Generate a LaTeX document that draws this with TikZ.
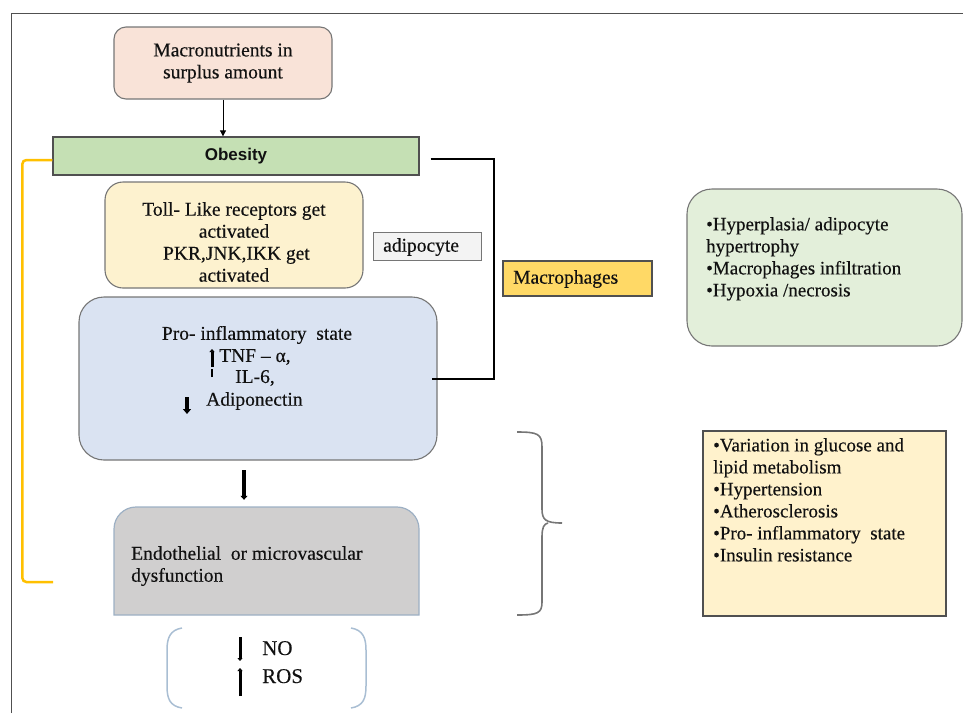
\documentclass[tikz,border=0pt]{standalone}
\usepackage{fontspec}
\setmainfont{Liberation Serif}[FakeBold=0.3]
\newfontfamily\arialfont{Liberation Sans}
\usetikzlibrary{arrows.meta,calc}
\definecolor{peach}{HTML}{F9E3D8}
\definecolor{obgreen}{HTML}{C5E0B4}
\definecolor{tollyellow}{HTML}{FDF2CF}
\definecolor{adigray}{HTML}{F3F3F3}
\definecolor{macyellow}{HTML}{FFD966}
\definecolor{rgreen}{HTML}{E3EFDA}
\definecolor{blueF}{HTML}{DAE3F2}
\definecolor{endogray}{HTML}{D0CFCF}
\definecolor{endoborder}{HTML}{9DB0C4}
\definecolor{ryellow}{HTML}{FFF2CC}
\definecolor{parcol}{HTML}{A9BED3}
\definecolor{goldline}{HTML}{FFC000}
\definecolor{bordgray}{HTML}{767676}
\definecolor{darkb}{HTML}{505050}
\definecolor{txtc}{HTML}{111111}
\begin{document}
\begin{tikzpicture}[x=1pt,y=-1pt,
  box/.style={draw=bordgray, line width=1.1pt, inner sep=0pt},
  txt/.style={font=\rmfamily\fontsize{19.5}{22}\selectfont, inner sep=0pt, text=txtc},
  rtxt/.style={font=\rmfamily\fontsize{19}{22}\selectfont, inner sep=0pt, text=txtc, align=left, anchor=north west},
  barup/.style={line width=3pt, -{Triangle[length=3pt,width=5pt]}},
]
\useasboundingbox (0,0) rectangle (963,713);
% frame
\draw[line width=1pt, darkb] (11,713) -- (11,13) -- (963,13);

% macronutrients
\node[box, rounded corners=12pt, fill=peach, minimum width=218pt, minimum height=72pt, txt, align=center] (macro) at (223,63) {Macronutrients in\\surplus amount};

% obesity
\node[draw=darkb, fill=obgreen, line width=1.3pt, minimum width=366pt, minimum height=38pt, inner sep=0pt, font=\arialfont\bfseries\fontsize{17}{20}\selectfont, text=txtc] (obesity) at (236,156) {Obesity};

\draw[line width=0.8pt, -{Triangle[length=6pt,width=6pt]}] (macro.south) -- (macro.south |- obesity.north);

% toll box
\node[box, rounded corners=18pt, fill=tollyellow, minimum width=258pt, minimum height=106pt] (toll) at (234,235) {};
\node[txt, align=center] (tolltxt) at (234,242) {Toll- Like receptors get\\activated\\\ PKR,JNK,IKK get\\activated};

% adipocyte
\node[draw=bordgray, fill=adigray, line width=1pt, minimum width=108pt, minimum height=28pt, inner sep=0pt] (adip) at (427,246) {};
\node[txt, anchor=west] (adiptxt) at (383,247) {adipocyte};

% macrophages
\node[draw=darkb, fill=macyellow, line width=1.1pt, minimum width=149pt, minimum height=35pt, inner sep=0pt] (macroph) at (577.5,278.5) {};
\node[txt, anchor=west] (macrophtxt) at (513,279) {Macrophages};

% green right box
\node[box, rounded corners=25pt, fill=rgreen, minimum width=275pt, minimum height=157pt] (hyper) at (824.5,267.5) {};
\node[rtxt] (hypertxt) at (706,217) {•Hyperplasia/ adipocyte\\hypertrophy\\•Macrophages infiltration\\•Hypoxia /necrosis};

% blue box
\node[box, rounded corners=25pt, fill=blueF, minimum width=358pt, minimum height=163pt] (blue) at (258,378.5) {};
\node[txt] (pro) at (257,335) {Pro- inflammatory\ \ state};
\node[txt, anchor=west] (tnf) at (219,357) {TNF – α,};
\node[txt] (il6) at (255,378) {IL-6,};
\node[txt, anchor=west] (adipo) at (206,401) {Adiponectin};
\coordinate (u1a) at (212,367); \coordinate (u1b) at (212,349);
\draw[barup] (u1a) -- (u1b);
\coordinate (u2a) at (212,377); \coordinate (u2b) at (212,369);
\draw[line width=2.8pt] (u2a) -- (u2b);
\coordinate (d1a) at (187,397); \coordinate (d1b) at (187,414);
\draw[line width=3.5pt, -{Triangle[length=5pt,width=8pt]}] (d1a) -- (d1b);

% black connector
\draw[line width=2pt] ([xshift=11pt,yshift=-3pt]obesity.east) -- ++(63,0) |- ([xshift=-6pt]blue.east);

% endothelial box
\path[fill=endogray, draw=endoborder, line width=1.2pt] (114,615) [rounded corners=22pt] -- (114,507) -- (419,507) [sharp corners] -- (419,615) -- cycle;
\node[minimum width=305pt, minimum height=108pt, inner sep=0pt] (endo) at (266.5,561) {};
\node[txt, anchor=north west, align=left] (endotxt) at (131,546) {Endothelial\ \ or microvascular\\dysfunction};

% arrow blue -> endo
\coordinate (a1) at (244,470);
\draw[line width=3.4pt, -{Triangle[length=4pt,width=7pt]}, shorten >=7pt] (a1) -- (a1 |- endo.north);

% gold bracket
\coordinate (yend) at (53,582);
\draw[goldline, line width=2.5pt, rounded corners=4pt] ([yshift=-4pt]obesity.west) -- ++(-30,0) |- (yend);

% brace
\draw[bordgray, line width=1.6pt] (517,432) .. controls (538,432) and (542,434) .. (542,447) -- (542,509) .. controls (542,520) and (546,523) .. (562,523);
\draw[bordgray, line width=1.6pt] (548,523) .. controls (544,524) and (542,527) .. (542,537) -- (542,602) .. controls (542,613) and (538,615) .. (517,615);

% yellow right box
\node[draw=darkb, fill=ryellow, line width=1.2pt, minimum width=243pt, minimum height=185pt, inner sep=0pt] (risk) at (824.5,523.5) {};
\node[rtxt] (risktxt) at (713,438) {•Variation in glucose and\\lipid metabolism\\•Hypertension\\•Atherosclerosis\\•Pro- inflammatory\ \ state\\•Insulin resistance};

% parentheses
\draw[parcol, line width=1.5pt] (182,628) .. controls (170,630) and (167,638) .. (167,650) -- (167,686) .. controls (167,699) and (170,706) .. (182,708);
\draw[parcol, line width=1.5pt] (351,628) .. controls (363,630) and (366,638) .. (366,650) -- (366,686) .. controls (366,699) and (363,706) .. (351,708);

% NO / ROS
\node[font=\rmfamily\fontsize{21}{24}\selectfont, inner sep=0pt, anchor=base west, text=txtc] (no) at (262,655) {NO};
\node[font=\rmfamily\fontsize{21}{24}\selectfont, inner sep=0pt, anchor=base west, text=txtc] (ros) at (262,683) {ROS};
\coordinate (n1a) at (240,637); \coordinate (n1b) at (240,661);
\draw[line width=3pt, -{Triangle[length=3pt,width=5pt]}] (n1a) -- (n1b);
\coordinate (r1a) at (240,696); \coordinate (r1b) at (240,668);
\draw[line width=3pt, -{Triangle[length=3pt,width=5pt]}] (r1a) -- (r1b);
\end{tikzpicture}
\end{document}
